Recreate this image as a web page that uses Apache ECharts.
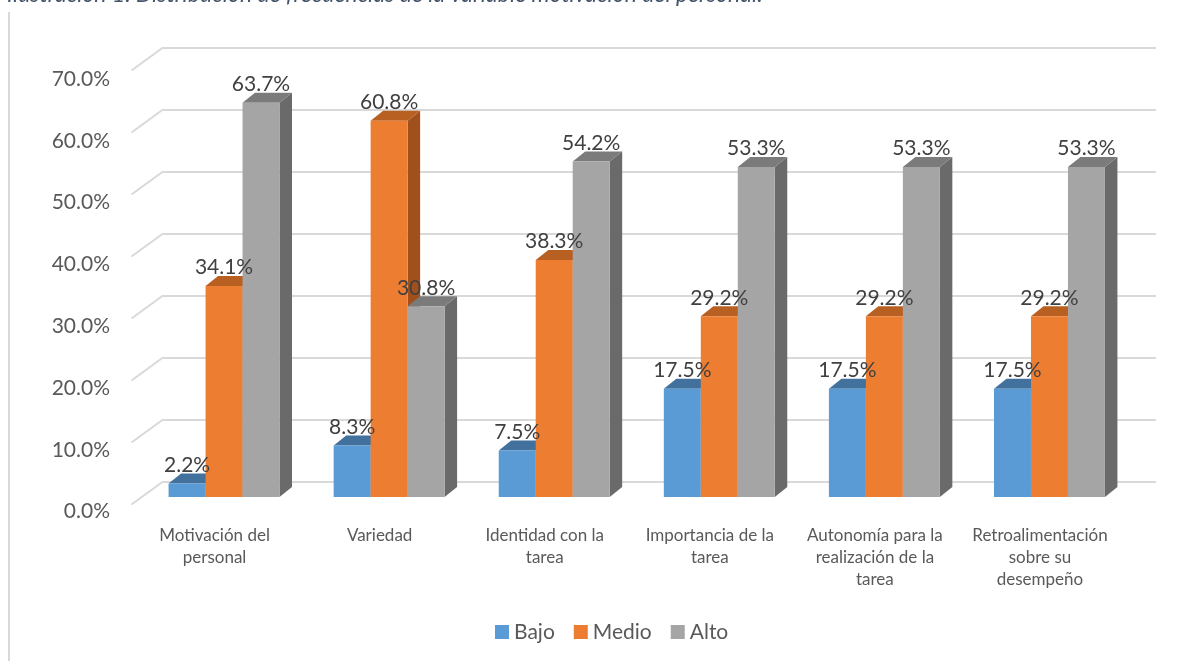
<!DOCTYPE html>
<html>
<head>
<meta charset="utf-8">
<script src="https://cdn.jsdelivr.net/npm/echarts@6/dist/echarts.min.js"></script>
<style>
html,body{margin:0;padding:0;background:#fff;}
#chart{width:1201px;height:661px;}
</style>
</head>
<body>
<div id="chart"></div>
<script>
const titleText = 'Ilustración 1. Distribución de frecuencias de la variable motivación del personal.';
const categories = ['Motivación del\npersonal', 'Variedad', 'Identidad con la\ntarea', 'Importancia de la\ntarea', 'Autonomía para la\nrealización de la\ntarea', 'Retroalimentación\nsobre su\ndesempeño'];
const seriesNames = ['Bajo', 'Medio', 'Alto'];
const bajo = [2.2, 8.3, 7.5, 17.5, 17.5, 17.5];
const medio = [34.1, 60.8, 38.3, 29.2, 29.2, 29.2];
const alto = [63.7, 30.8, 54.2, 53.3, 53.3, 53.3];
const yTicks = [0, 10, 20, 30, 40, 50, 60, 70];

const FONT = 'Lato';
const faceColors = [
  {front: '#5B9BD5', top: '#41719C', side: '#3C6A94'},
  {front: '#ED7D31', top: '#B85F22', side: '#A0501B'},
  {front: '#A5A5A5', top: '#7B7B7B', side: '#6A6A6A'}
];
const DX = 12.5, DY = -10;      // bar depth offset
const GROUP_FRAC = 0.672;        // fraction of band used by the bar group
const WALL_DX = -31.5, WALL_DY = 23; // diagonal from back wall to front edge

function barRender(s) {
  const c = faceColors[s];
  return function (params, api) {
    const i = api.value(0), v = api.value(1);
    const base = api.coord([i, 0]);
    const tp = api.coord([i, v]);
    const band = api.size([1, 0])[0];
    const bw = band * GROUP_FRAC / 3;
    const x0 = base[0] - 1.5 * bw + s * bw, x1 = x0 + bw;
    const yb = base[1], yt = tp[1];
    return {
      type: 'group',
      children: [
        {type: 'polygon', z2: 0, shape: {points: [[x1, yt], [x1 + DX, yt + DY], [x1 + DX, yb + DY], [x1, yb]]}, style: {fill: c.side}},
        {type: 'polygon', z2: 1, shape: {points: [[x0, yt], [x0 + DX, yt + DY], [x1 + DX, yt + DY], [x1, yt]]}, style: {fill: c.top}},
        {type: 'rect', z2: 2, shape: {x: x0, y: yt, width: bw, height: yb - yt}, style: {fill: c.front}},
        {type: 'text', z2: 10, style: {text: v.toFixed(1) + '%', x: (x0 + x1) / 2, y: yt + DY + 2, align: 'center', verticalAlign: 'bottom', fill: '#404040', font: '21px ' + FONT}}
      ]
    };
  };
}

const seriesData = [bajo, medio, alto];
const series = seriesData.map((arr, s) => ({
  name: seriesNames[s],
  type: 'custom',
  xAxisIndex: 0, yAxisIndex: 0,
  itemStyle: {color: faceColors[s].front},
  renderItem: barRender(s),
  data: arr.map((v, i) => [i, v]),
  z: 5
}));

series.push({
  name: 'wall',
  type: 'custom',
  xAxisIndex: 1, yAxisIndex: 1,
  silent: true,
  z: 1,
  renderItem: function (params, api) {
    const p = api.coord([0, api.value(0)]);
    return {type: 'line', shape: {x1: p[0], y1: p[1], x2: p[0] + WALL_DX, y2: p[1] + WALL_DY}, style: {stroke: '#D9D9D9', lineWidth: 2}};
  },
  data: yTicks.map(t => [t])
});

const chart = echarts.init(document.getElementById('chart'), null, {renderer: 'canvas'});
chart.setOption({
  backgroundColor: '#fff',
  animation: false,
  graphic: [
    {type: 'text', left: 7, top: -17, style: {text: titleText, fill: '#44546A', font: 'italic 23px ' + FONT}},
    {type: 'rect', shape: {x: 8, y: 12, width: 2, height: 660}, style: {fill: '#D9D9D9'}}
  ],
  legend: {
    data: seriesNames,
    left: 495, top: 621, padding: 0,
    itemWidth: 14, itemHeight: 14, itemGap: 19,
    icon: 'rect',
    textStyle: {fontFamily: FONT, fontSize: 21, color: '#595959', lineHeight: 22}
  },
  grid: [
    {left: 141.5, right: 69, top: 63.7, bottom: 164},
    {left: 163, right: 45, top: 47.5, bottom: 179.5},
    {left: 132, right: 78.5, top: 79, bottom: 149.3}
  ],
  xAxis: [
    {gridIndex: 0, type: 'category', data: categories, show: false},
    {gridIndex: 1, type: 'value', min: 0, max: 1, show: false},
    {gridIndex: 2, type: 'category', data: categories, axisLine: {show: false}, axisTick: {show: false},
      axisLabel: {interval: 0, margin: 13, fontFamily: FONT, fontSize: 17, lineHeight: 22, color: '#595959'}}
  ],
  yAxis: [
    {gridIndex: 0, type: 'value', min: 0, max: 70, interval: 10, show: false},
    {gridIndex: 1, type: 'value', min: 0, max: 70, interval: 10, axisLabel: {show: false}, axisLine: {show: false}, axisTick: {show: false},
      splitLine: {show: true, lineStyle: {color: '#D9D9D9', width: 2}}},
    {gridIndex: 2, type: 'value', min: 0, max: 70, interval: 10, axisLine: {show: false}, axisTick: {show: false}, splitLine: {show: false},
      axisLabel: {margin: 22, fontFamily: FONT, fontSize: 21, color: '#595959', formatter: v => v.toFixed(1) + '%'}}
  ],
  series: series
});
</script>
</body>
</html>
